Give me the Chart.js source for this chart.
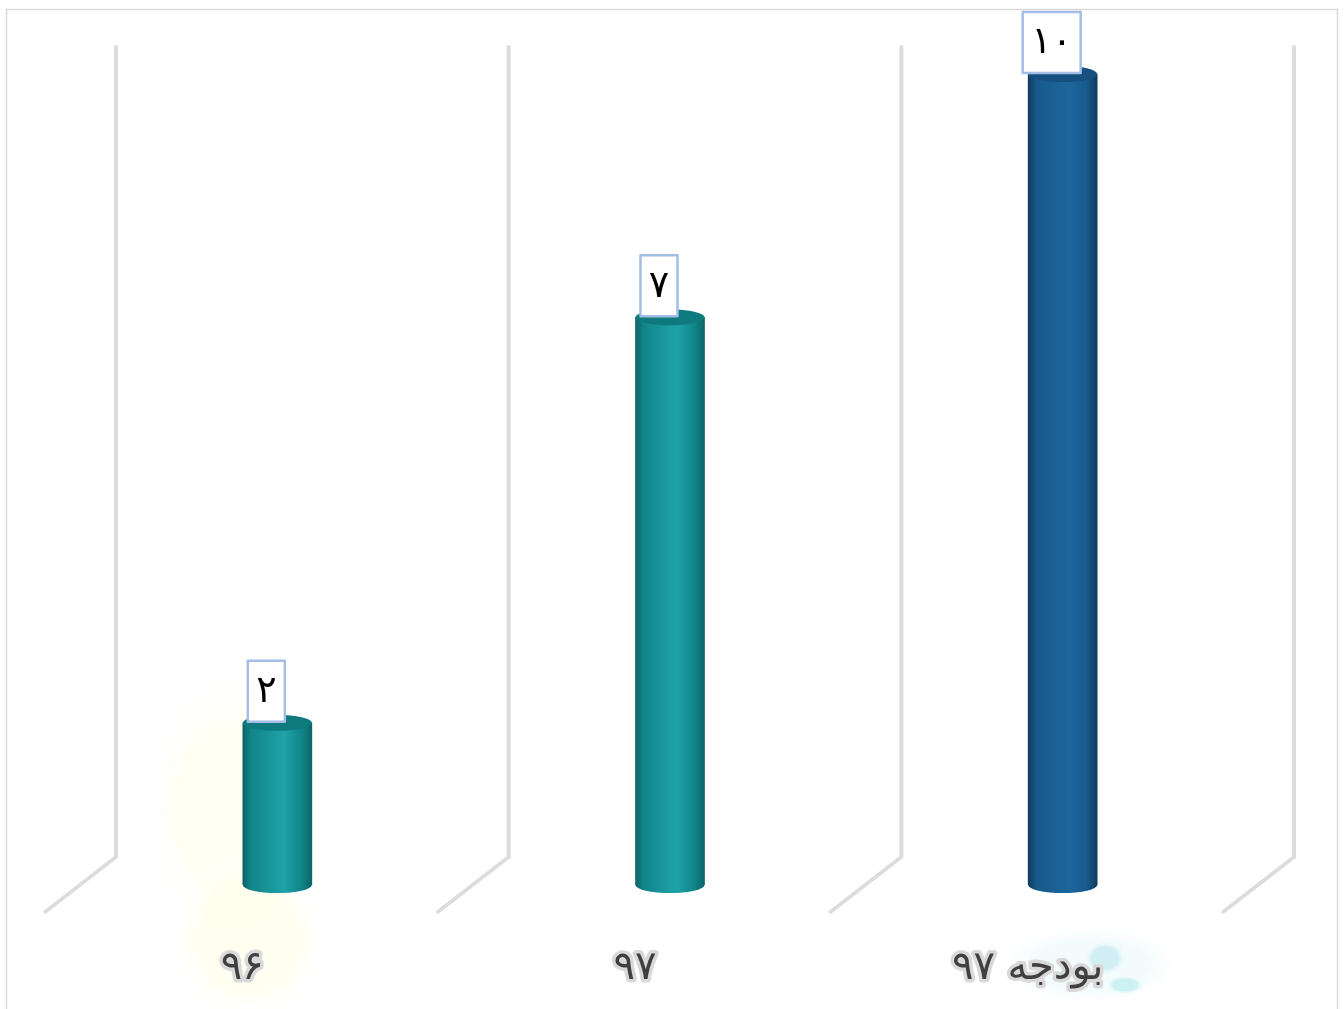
<!DOCTYPE html>
<html><head><meta charset="utf-8">
<style>html,body{margin:0;padding:0;background:#fff;overflow:hidden}canvas{display:block}</style>
<script src="https://cdn.jsdelivr.net/npm/chart.js@4"></script>
</head><body><canvas id="c" width="1344" height="1009"></canvas>
<script>
const categories = ['۹۶', '۹۷', 'بودجه ۹۷'];
const values = [2, 7, 10];
const valueLabels = ['۲', '۷', '۱۰'];
const barDark = ['#0c6467', '#0c6467', '#123a5e'];
const barEdge = ['#118589', '#118589', '#185a8c'];
const barMid = ['#1ea3a8', '#1ea3a8', '#1c669c'];
const barCap = ['#0f7a7d', '#0f7a7d', '#16507e'];

const BACK_X = 35, BACK_Y = -28, FRONT_X = -36, FRONT_Y = 27, CAP_RY = 8;

const page = {
  id: 'page',
  beforeDraw(chart) {
    const g = chart.ctx;
    g.save();
    g.fillStyle = '#fff'; g.fillRect(0, 0, 1344, 1009);
    const blobs = [
      [232, 810, 90, 140, 'rgba(255,255,232,.55)'], [248, 940, 82, 85, 'rgba(255,255,232,.6)'],
      [1090, 965, 95, 42, 'rgba(238,250,250,.7)'], [1105, 958, 22, 18, 'rgba(195,232,242,.7)'], [1125, 985, 20, 10, 'rgba(195,238,240,.8)']
    ];
    for (const [x, y, rx, ry, col] of blobs) {
      g.save(); g.translate(x, y); g.scale(rx, ry);
      const r = g.createRadialGradient(0, 0, 0, 0, 0, 1);
      r.addColorStop(0, col); r.addColorStop(.6, col); r.addColorStop(1, 'rgba(255,255,255,0)');
      g.fillStyle = r; g.beginPath(); g.arc(0, 0, 1, 0, Math.PI * 2); g.fill(); g.restore();
    }
    g.strokeStyle = '#d9d9d9'; g.lineWidth = 1.5;
    g.beginPath(); g.moveTo(6.5, 1009); g.lineTo(6.5, 9.5); g.lineTo(1337.5, 9.5); g.lineTo(1337.5, 1009); g.stroke();
    g.restore();
    g.lineJoin = 'round';
  },
  beforeDatasetsDraw(chart) {
    const g = chart.ctx, xs = chart.scales.x, ys = chart.scales.y;
    const step = xs.width / categories.length, y0 = ys.getPixelForValue(0), y1 = ys.getPixelForValue(10);
    g.save();
    g.strokeStyle = '#dcdcdc'; g.lineCap = 'round'; g.lineJoin = 'round';
    for (let i = 0; i <= categories.length; i++) {
      const x = xs.left + i * step;
      g.lineWidth = 4;
      g.beginPath();
      g.moveTo(x + BACK_X, y1 + BACK_Y + 1);
      g.lineTo(x + BACK_X, y0 + BACK_Y);
      g.stroke();
      g.lineWidth = 3.5;
      g.beginPath();
      g.moveTo(x + BACK_X, y0 + BACK_Y);
      g.lineTo(x + FRONT_X, y0 + FRONT_Y);
      g.stroke();
    }
    chart.getDatasetMeta(0).data.forEach((b, i) => {
      g.fillStyle = gradientFor(chart, i);
      g.beginPath(); g.ellipse(b.x, y0, b.width / 2, CAP_RY, 0, 0, Math.PI * 2); g.fill();
    });
    g.restore();
  },
  afterDatasetsDraw(chart) {
    const g = chart.ctx;
    g.save();
    chart.getDatasetMeta(0).data.forEach((b, i) => {
      g.fillStyle = barCap[i];
      g.beginPath(); g.ellipse(b.x, b.y, b.width / 2, CAP_RY, 0, 0, Math.PI * 2); g.fill();
      const t = valueLabels[i], w = t.length > 1 ? 58 : 37, h = 61;
      const cx = b.x - 11, top = b.y - 62;
      g.fillStyle = '#fff'; g.fillRect(cx - w / 2, top, w, h);
      g.strokeStyle = '#a3bde6'; g.lineWidth = 2.5; g.strokeRect(cx - w / 2, top, w, h);
      g.fillStyle = '#000'; g.font = '38px "DejaVu Sans"';
      g.textAlign = 'center'; g.textBaseline = 'middle';
      g.fillText(t, cx, top + h / 2 + 1);
    });
    g.restore();
  }
};

function gradientFor(chart, i) {
  const xs = chart.scales.x;
  const cx = xs ? xs.getPixelForTick(i) : NaN;
  if (!Number.isFinite(cx)) return barMid[i];
  const w = 69, g = chart.ctx.createLinearGradient(cx - w / 2, 0, cx + w / 2, 0);
  g.addColorStop(0, barDark[i]); g.addColorStop(.12, barEdge[i]); g.addColorStop(.6, barMid[i]);
  g.addColorStop(.85, barEdge[i]); g.addColorStop(1, barDark[i]);
  return g;
}

new Chart(document.getElementById('c'), {
  type: 'bar',
  data: { labels: categories, datasets: [{ data: values, barThickness: 69, borderWidth: 0,
    backgroundColor: c => gradientFor(c.chart, c.dataIndex) }] },
  options: {
    responsive: false, animation: false,
    layout: { padding: { left: 81, right: 85, top: 74, bottom: 0 } },
    plugins: { legend: { display: false }, tooltip: { enabled: false } },
    scales: {
      x: {
        grid: { display: false }, border: { display: false },
        afterFit(s) { s.height = 124; },
        ticks: { labelOffset: -35, padding: 52, maxRotation: 0, autoSkip: false, color: '#404040',
          textStrokeColor: '#d9d9d9', textStrokeWidth: 7, font: { family: '"DejaVu Sans"', size: 40 } }
      },
      y: { display: false, min: 0, max: 10 }
    }
  },
  plugins: [page]
});
</script></body></html>
